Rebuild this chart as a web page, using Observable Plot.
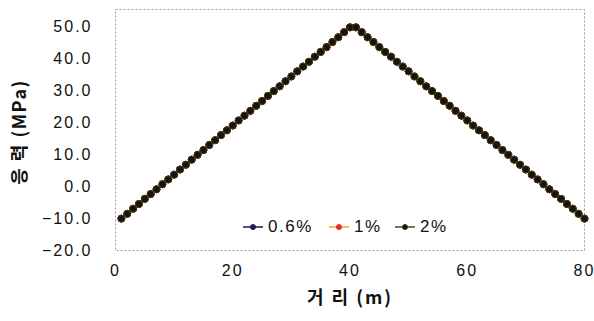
<!DOCTYPE html>
<html>
<head>
<meta charset="utf-8">
<script src="https://cdn.jsdelivr.net/npm/d3@7"></script>
<script src="https://cdn.jsdelivr.net/npm/@observablehq/plot@0.6"></script>
<style>
  html, body { margin: 0; padding: 0; background: #fff; }
  #wrap { position: relative; width: 594px; height: 321px; font-family: "Liberation Sans", Arial, sans-serif; }
  .item { position: absolute; top: 218px; display: flex; align-items: center; font-size: 17px; letter-spacing: 1.5px; color: #111; height: 18px; }
  .item svg { margin-right: 5px; }
  g[aria-label="y-axis tick label"] text, g[aria-label="x-axis tick label"] text { letter-spacing: 2px; }
</style>
</head>
<body>
<div id="wrap"></div>
<script>
const distance = [1,2,3,4,5,6,7,8,9,10,11,12,13,14,15,16,17,18,19,20,21,22,23,24,25,26,27,28,29,30,31,32,33,34,35,36,37,38,39,40,41,42,43,44,45,46,47,48,49,50,51,52,53,54,55,56,57,58,59,60,61,62,63,64,65,66,67,68,69,70,71,72,73,74,75,76,77,78,79,80];
const stress06 = [-10.0,-8.5,-6.9,-5.4,-3.8,-2.3,-0.8,0.8,2.3,3.8,5.4,6.9,8.5,10.0,11.5,13.1,14.6,16.2,17.7,19.2,20.8,22.3,23.8,25.4,26.9,28.5,30.0,31.5,33.1,34.6,36.2,37.7,39.2,40.8,42.3,43.8,45.4,46.9,48.5,50.0,
  50.0,48.5,46.9,45.4,43.8,42.3,40.8,39.2,37.7,36.2,34.6,33.1,31.5,30.0,28.5,26.9,25.4,23.8,22.3,20.8,19.2,17.7,16.2,14.6,13.1,11.5,10.0,8.5,6.9,5.4,3.8,2.3,0.8,-0.8,-2.3,-3.8,-5.4,-6.9,-8.5,-10.0];
const stress1 = [-10.0,-8.5,-6.9,-5.4,-3.8,-2.3,-0.8,0.8,2.3,3.8,5.4,6.9,8.5,10.0,11.5,13.1,14.6,16.2,17.7,19.2,20.8,22.3,23.8,25.4,26.9,28.5,30.0,31.5,33.1,34.6,36.2,37.7,39.2,40.8,42.3,43.8,45.4,46.9,48.5,50.0,
  50.0,48.5,46.9,45.4,43.8,42.3,40.8,39.2,37.7,36.2,34.6,33.1,31.5,30.0,28.5,26.9,25.4,23.8,22.3,20.8,19.2,17.7,16.2,14.6,13.1,11.5,10.0,8.5,6.9,5.4,3.8,2.3,0.8,-0.8,-2.3,-3.8,-5.4,-6.9,-8.5,-10.0];
const stress2 = [-10.0,-8.5,-6.9,-5.4,-3.8,-2.3,-0.8,0.8,2.3,3.8,5.4,6.9,8.5,10.0,11.5,13.1,14.6,16.2,17.7,19.2,20.8,22.3,23.8,25.4,26.9,28.5,30.0,31.5,33.1,34.6,36.2,37.7,39.2,40.8,42.3,43.8,45.4,46.9,48.5,50.0,
  50.0,48.5,46.9,45.4,43.8,42.3,40.8,39.2,37.7,36.2,34.6,33.1,31.5,30.0,28.5,26.9,25.4,23.8,22.3,20.8,19.2,17.7,16.2,14.6,13.1,11.5,10.0,8.5,6.9,5.4,3.8,2.3,0.8,-0.8,-2.3,-3.8,-5.4,-6.9,-8.5,-10.0];
const seriesNames = ["0.6%", "1%", "2%"];
const xTicks = [0, 20, 40, 60, 80];
const yTicks = [-20, -10, 0, 10, 20, 30, 40, 50];

const styles = {
  "0.6%": {line: "#1b1b55", fill: "#1b1b55", stroke: "#1b1b55"},
  "1%":   {line: "#f2a81d", fill: "#e0301e", stroke: "#e0301e"},
  "2%":   {line: "#4a4a10", fill: "#141410", stroke: "#3a3a12"}
};

const values = {"0.6%": stress06, "1%": stress1, "2%": stress2};
const rows = seriesNames.map(s => distance.map((d, i) => ({series: s, x: d, y: values[s][i]})));

const marks = [
  Plot.frame({stroke: "#999", strokeDasharray: "2,2", strokeWidth: 1}),
];
rows.forEach((r, k) => {
  const s = seriesNames[k];
  marks.push(Plot.line(r, {x: "x", y: "y", stroke: styles[s].line, strokeWidth: 1.5}));
  marks.push(Plot.dot(r, {x: "x", y: "y", r: 3.5, fill: styles[s].fill, stroke: styles[s].stroke, strokeWidth: 1}));
});
marks.push(Plot.axisY({ticks: yTicks, tickSize: 0, tickPadding: 23, tickFormat: d3.format(".1f"), fontSize: 16, label: null}));
marks.push(Plot.axisX({ticks: xTicks, tickSize: 0, tickPadding: 14, fontSize: 16, label: null}));
marks.push(Plot.text(["응 력 (MPa)"], {frameAnchor: "left", textAnchor: "middle", dx: -95, dy: 2, rotate: -90, fontSize: 18, fontWeight: "bold", fill: "#111", fontFamily: "'Noto Sans CJK KR', sans-serif"}));
marks.push(Plot.text(["거 리 (m)"], {frameAnchor: "bottom", dy: 53, fontSize: 18, fontWeight: "bold", fill: "#111", fontFamily: "'Noto Sans CJK KR', sans-serif"}));

const chart = Plot.plot({
  width: 594,
  height: 321,
  marginLeft: 115,
  marginRight: 10,
  marginTop: 9,
  marginBottom: 71,
  style: {fontFamily: "'Liberation Sans', Arial, sans-serif", color: "#111", background: "#fff"},
  x: {domain: [0, 80]},
  y: {domain: [-20, 55.6]},
  marks
});

d3.select(chart).selectAll("text").filter(function() { return this.textContent.includes("거"); }).style("letter-spacing", "2px");
d3.select(chart).selectAll("text").filter(function() { return this.textContent.includes("응"); }).style("letter-spacing", "1.5px");

const wrap = document.getElementById("wrap");
wrap.appendChild(chart);

const legendLeft = [243, 329, 395];
seriesNames.forEach((s, i) => {
  const item = document.createElement("div");
  item.className = "item";
  item.style.left = legendLeft[i] + "px";
  const st = styles[s];
  item.innerHTML = `<svg width="20" height="10"><line x1="0" y1="5" x2="20" y2="5" stroke="${st.line}" stroke-width="1.5"/><circle cx="10" cy="5" r="2.6" fill="${st.fill}" stroke="${st.stroke}" stroke-width="0.8"/></svg><span>${s}</span>`;
  wrap.appendChild(item);
});
</script>
</body>
</html>
